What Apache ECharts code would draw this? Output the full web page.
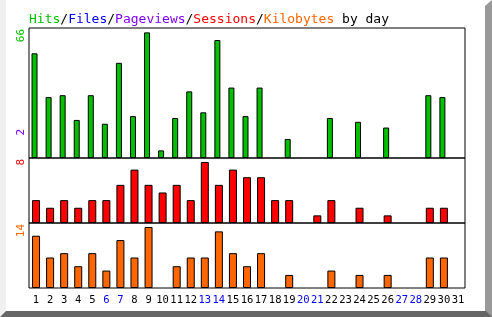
<!DOCTYPE html>
<html><head><meta charset="utf-8">
<script src="https://cdn.jsdelivr.net/npm/echarts@6/dist/echarts.min.js"></script>
<style>html,body{margin:0;padding:0;background:#fff}#c{width:492px;height:317px}</style>
</head><body><div id="c"></div>
<script>
var days = ['1','2','3','4','5','6','7','8','9','10','11','12','13','14','15','16','17','18','19','20','21','22','23','24','25','26','27','28','29','30','31'];
var weekendDays = ['6','7','13','14','20','21','27','28'];
var hits = [55,32,33,20,33,18,50,22,66,4,21,35,24,62,37,22,37,0,10,0,0,21,0,19,0,16,0,0,33,32,0];
var sessions = [3,2,3,2,3,3,5,7,5,4,5,3,8,5,7,6,6,3,3,0,1,3,0,2,0,1,0,0,2,2,0];
var kilobytes = [12,7,8,5,8,4,11,7,14,0,5,7,7,13,8,5,8,0,3,0,0,4,0,3,0,3,0,0,7,7,0];
var axisLabels = {hits:'66', pages:'2', sessions:'8', kb:'14'};

var C = {hits:'#00C000', files:'#0000FF', pages:'#8000FF', sessions:'#FF0000', kb:'#FF6600'};
var mono = 'DejaVu Sans Mono';
function nz(arr){ return arr.map(function(v){ return v === 0 ? '-' : v; }); }
var chart = echarts.init(document.getElementById('c'), null, {renderer:'canvas'});
var gridBase = {left:29, width:436, show:true, borderColor:'#000', borderWidth:1, backgroundColor:'transparent'};
function xa(i, showLabel){
  return {type:'category', gridIndex:i, data:days, boundaryGap:true,
    axisLine:{show:false}, axisTick:{show:false}, splitLine:{show:false},
    axisLabel:{show:showLabel, interval:0, margin:7, fontFamily:mono, fontSize:10.5,
      color:function(v){return weekendDays.indexOf(v)>=0?'#0000FF':'#000';}}};
}
function ya(i, max){
  return {type:'value', gridIndex:i, min:0, max:max, axisLine:{show:false}, axisTick:{show:false},
    axisLabel:{show:false}, splitLine:{show:false}};
}
var bs = {borderColor:'#000', borderWidth:1};
function rot(text, color, y){
  return {type:'text', x:21, y:y, rotation:Math.PI/2,
    style:{text:text, fill:color, font:'11px "'+mono+'"', textAlign:'right', textVerticalAlign:'middle'}};
}
chart.setOption({
  animation:false,
  backgroundColor:'#fff',
  title:{left:29, top:13, padding:0, text:'{h|Hits}{k|/}{f|Files}{k|/}{p|Pageviews}{k|/}{s|Sessions}{k|/}{b|Kilobytes}{k| by day}',
    textStyle:{fontFamily:mono, fontSize:13, fontWeight:'normal',
      rich:{h:{color:C.hits,fontFamily:mono,fontSize:13},f:{color:C.files,fontFamily:mono,fontSize:13},
        p:{color:C.pages,fontFamily:mono,fontSize:13},s:{color:C.sessions,fontFamily:mono,fontSize:13},
        b:{color:C.kb,fontFamily:mono,fontSize:13},k:{color:'#000',fontFamily:mono,fontSize:13}}}},
  grid:[Object.assign({top:28,height:130},gridBase),Object.assign({top:158,height:65},gridBase),Object.assign({top:223,height:65},gridBase)],
  xAxis:[xa(0,false),xa(1,false),xa(2,true)],
  yAxis:[ya(0,68.3),ya(1,8.52),ya(2,14.92)],
  series:[
    {name:'Hits', type:'bar', xAxisIndex:0, yAxisIndex:0, data:nz(hits), barWidth:6, barGap:'-50%', itemStyle:Object.assign({color:C.hits},bs)},
    {name:'Files', type:'bar', xAxisIndex:0, yAxisIndex:0, data:[], barWidth:6, itemStyle:Object.assign({color:C.files},bs)},
    {name:'Sessions', type:'bar', xAxisIndex:1, yAxisIndex:1, data:nz(sessions), barWidth:8, itemStyle:Object.assign({color:C.sessions},bs)},
    {name:'Kilobytes', type:'bar', xAxisIndex:2, yAxisIndex:2, data:nz(kilobytes), barWidth:8, itemStyle:Object.assign({color:C.kb},bs)}
  ],
  graphic:[
    {type:'rect', shape:{x:0,y:0,width:6,height:317}, style:{fill:'#F0F0F0'}},
    {type:'polygon', shape:{points:[[485,6],[492,0],[492,317],[485,317]]}, style:{fill:'#999999'}},
    {type:'polygon', shape:{points:[[0,317],[6,311],[486,311],[492,317]]}, style:{fill:'#666666'}},
    rot(axisLabels.hits, C.hits, 29),
    rot(axisLabels.pages, C.pages, 129),
    rot(axisLabels.sessions, C.sessions, 159),
    rot(axisLabels.kb, C.kb, 224)
  ]
});
</script></body></html>
